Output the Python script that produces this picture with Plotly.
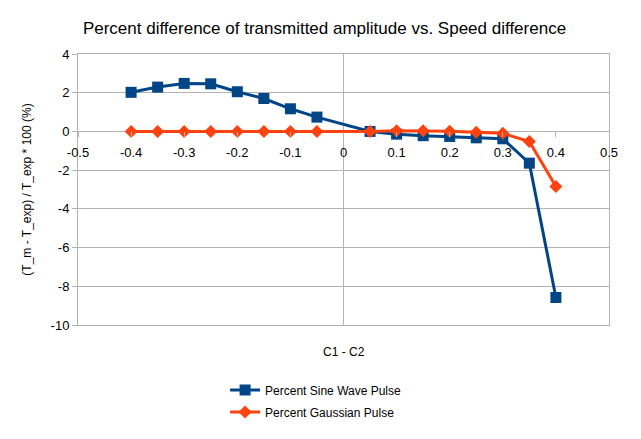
import plotly.graph_objects as go

x_sine = [-0.4, -0.35, -0.3, -0.25, -0.2, -0.15, -0.1, -0.05, 0.05, 0.1, 0.15, 0.2, 0.25, 0.3, 0.35, 0.4]
y_sine = [2.02, 2.29, 2.48, 2.46, 2.05, 1.70, 1.17, 0.74, 0.0, -0.14, -0.22, -0.26, -0.33, -0.38, -1.64, -8.58]

x_gauss = [-0.4, -0.35, -0.3, -0.25, -0.2, -0.15, -0.1, -0.05, 0.05, 0.1, 0.15, 0.2, 0.25, 0.3, 0.35, 0.4]
y_gauss = [0.0, 0.0, 0.0, 0.0, 0.0, 0.0, 0.0, 0.0, 0.0, 0.04, 0.03, 0.01, -0.04, -0.1, -0.52, -2.85]

x_ticks = [-0.5, -0.4, -0.3, -0.2, -0.1, 0, 0.1, 0.2, 0.3, 0.4, 0.5]
x_tick_labels = ["-0.5", "-0.4", "-0.3", "-0.2", "-0.1", "0", "0.1", "0.2", "0.3", "0.4", "0.5"]
y_ticks = [-10, -8, -6, -4, -2, 0, 2, 4]
y_tick_labels = ["-10", "-8", "-6", "-4", "-2", "0", "2", "4"]

x_range = [-0.5, 0.5]
y_range = [-10, 4]

grid = "#b3b3b3"
font = "Liberation Sans, Arial, sans-serif"

fig = go.Figure()
fig.add_trace(go.Scatter(
    x=x_sine, y=y_sine, mode="lines+markers", name="Percent Sine Wave Pulse",
    line=dict(color="#004586", width=3),
    marker=dict(symbol="square", size=11, color="#004586"),
    legend="legend",
))
fig.add_trace(go.Scatter(
    x=x_gauss, y=y_gauss, mode="lines+markers", name="Percent Gaussian Pulse",
    line=dict(color="#ff420e", width=3),
    marker=dict(symbol="diamond", size=10, color="#ff420e"),
    legend="legend2",
))
# helper empty trace for the frame axis
fig.add_trace(go.Scatter(x=[], y=[], xaxis="x2", yaxis="y", showlegend=False, hoverinfo="skip"))

# position of y=0 within the plot area
zero_pos = (0 - y_range[0]) / (y_range[1] - y_range[0])

fig.update_layout(
    width=633, height=431,
    paper_bgcolor="white", plot_bgcolor="white",
    margin=dict(l=70, r=32, t=46, b=114, autoexpand=False),
    font=dict(family=font, size=13, color="#000000"),
    title=dict(text="Percent difference of transmitted amplitude vs. Speed difference",
               x=0.5, xanchor="center", y=(431 - 20) / 431, yanchor="middle",
               font=dict(family=font, size=17, color="#000000")),
    xaxis=dict(range=x_range, tickvals=x_ticks, ticktext=x_tick_labels,
               anchor="free", position=zero_pos, showgrid=False,
               zeroline=True, zerolinecolor=grid, zerolinewidth=1,
               showline=False, ticks="outside", ticklen=5, tickcolor=grid,
               ticklabelstandoff=4, tickfont=dict(size=13),
               domain=[0, 1], automargin=False),
    xaxis2=dict(range=x_range, overlaying="x", anchor="y", matches="x",
                showline=True, mirror=True, linecolor=grid, linewidth=1,
                showticklabels=False, showgrid=False, zeroline=False, ticks="",
                automargin=False),
    yaxis=dict(range=y_range, tickvals=y_ticks, ticktext=y_tick_labels,
               showgrid=True, gridcolor=grid, gridwidth=1,
               zeroline=False, showline=True, mirror=True, linecolor=grid,
               ticks="outside", ticklen=5, tickcolor=grid,
               tickfont=dict(size=13), domain=[0, 1], automargin=False,
               title=dict(text="(T_m - T_exp) / T_exp * 100 (%)", font=dict(size=12), standoff=16)),
    legend=dict(x=0.277, y=-0.240, xanchor="left", yanchor="middle",
                font=dict(size=12), bgcolor="rgba(0,0,0,0)"),
    legend2=dict(x=0.277, y=-0.321, xanchor="left", yanchor="middle",
                 font=dict(size=12), bgcolor="rgba(0,0,0,0)"),
    showlegend=True,
)
fig.add_annotation(text="C1 - C2", xref="paper", yref="paper", x=0.5, y=-0.1,
                   xanchor="center", yanchor="middle", showarrow=False,
                   font=dict(family=font, size=12, color="#000000"))

fig.write_html("out.html")
